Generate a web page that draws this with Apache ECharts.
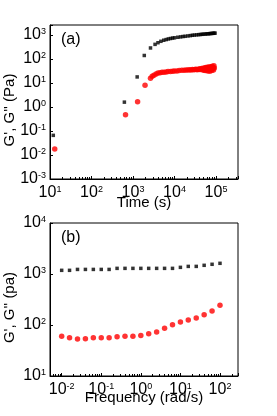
<!DOCTYPE html>
<html><head><meta charset="utf-8">
<script src="https://cdn.jsdelivr.net/npm/echarts@6/dist/echarts.min.js"></script>
<style>html,body{margin:0;padding:0;background:#fff}#c{width:277px;height:416px}</style>
</head><body><div id="c"></div>
<script>
// ---- Panel (a): time sweep ----
const timeStorage = [12, 620, 1260, 1870, 2640, 3400, 4000, 4700, 5500, 6300, 7100, 8000, 9000, 10000, 12000, 14000, 16000, 18000, 21000, 24000, 27000, 30000, 34000, 38000, 42000, 46000, 50000, 55000, 60000, 65000, 70000, 75000, 80000, 85000, 90000, 95000];
const storageTime = [0.066, 1.6, 18, 141, 290, 410, 480, 550, 610, 650, 690, 720, 750, 770, 810, 840, 870, 890, 920, 950, 980, 1000, 1020, 1040, 1060, 1075, 1090, 1105, 1120, 1135, 1150, 1160, 1175, 1185, 1195, 1205];
const timeLoss = [13, 660, 1290, 1950, 2640, 2900, 3200, 3600, 4000, 4500, 5000, 5600, 6300, 7000, 8000, 9000, 10000, 11500, 13000, 15000, 17000, 19000, 21000, 23000, 25000, 27000, 29000, 31000, 33000, 35000, 37000, 39000, 41000, 43000, 45000, 47000, 49000, 51000, 53000, 55000, 57000, 59000, 61000, 63000, 65000, 67000, 69000, 71000, 73000, 75000, 77000, 79000, 81000, 83000, 85000, 87000, 89000, 91000];
const lossTime = [0.018, 0.48, 1.66, 8, 16, 19, 21, 24, 26, 27, 28, 28.5, 29, 30, 30, 31, 32, 32, 33, 34, 34, 35, 35, 36, 35, 37, 36, 37, 38, 36, 38, 37, 39, 37, 40, 36, 41, 34, 42, 33, 44, 35, 45, 32, 47, 36, 43, 31, 48, 38, 46, 33, 50, 40, 44, 35, 52, 42];

// ---- Panel (b): frequency sweep ----
const frequency = [0.01, 0.0158, 0.0251, 0.0398, 0.0631, 0.1, 0.158, 0.251, 0.398, 0.631, 1, 1.58, 2.51, 3.98, 6.31, 10, 15.8, 25.1, 39.8, 63.1, 100];
const storageFreq = [1180, 1180, 1230, 1230, 1230, 1230, 1230, 1290, 1290, 1290, 1290, 1290, 1290, 1290, 1290, 1350, 1410, 1410, 1480, 1550, 1620];
const lossFreq = [60, 56, 53, 54, 56, 56, 56, 59, 60, 60, 62, 67, 73, 86, 101, 114, 125, 137, 159, 188, 245];

const panelLabels = ['(a)', '(b)'];
const xTitles = ['Time (s)', 'Frequency (rad/s)'];
const yTitles = ["G', G'' (Pa)", "G', G'' (pa)"];

const FONT = '"Liberation Sans", Arial, sans-serif';
function pow10Label(v) {
  const e = Math.log10(v);
  const r = Math.round(e);
  if (Math.abs(e - r) > 1e-6) return '';
  return '{b|10}{s|' + r + '}';
}
const rich = {
  b: {fontSize: 16, fontFamily: FONT, color: '#000', lineHeight: 16},
  s: {fontSize: 9, fontFamily: FONT, color: '#000', lineHeight: 9, verticalAlign: 'top'}
};
function axisBase(extra) {
  return Object.assign({
    type: 'log', logBase: 10,
    axisLine: {lineStyle: {color: '#000', width: 1}},
    axisTick: {inside: true, length: 3, lineStyle: {color: '#000'}},
    splitLine: {show: false},
    axisLabel: {formatter: pow10Label, rich: rich, fontSize: 16, fontFamily: FONT, color: '#000', margin: 4},
    nameLocation: 'middle',
    nameMoveOverlap: false,
    nameTextStyle: {fontSize: 15, fontFamily: FONT, color: '#000'}
  }, extra);
}
const xLabel = {formatter: pow10Label, rich: rich, fontSize: 16, fontFamily: FONT, color: '#000', margin: 6};
const xMinor = {show: true, splitNumber: 9, length: 2, lineStyle: {color: '#000', width: 1}};
const yNameStyle = {fontSize: 15, fontFamily: FONT, color: '#000', padding: [0, 16, 0, 0]};
const pair = (xs, ys) => xs.map((x, i) => [x, ys[i]]);

const chart = echarts.init(document.getElementById('c'), null, {renderer: 'canvas'});
chart.setOption({
  animation: false,
  backgroundColor: '#fff',
  grid: [
    {left: 50, top: 25, width: 188, height: 154, show: true, borderColor: '#000', borderWidth: 1, containLabel: false, outerBoundsMode: 'none'},
    {left: 50, top: 223, width: 188, height: 153, show: true, borderColor: '#000', borderWidth: 1, containLabel: false, outerBoundsMode: 'none'}
  ],
  xAxis: [
    axisBase({gridIndex: 0, min: 10, max: Math.pow(10, 5.53), name: xTitles[0], nameGap: 16, axisLabel: xLabel, minorTick: xMinor}),
    axisBase({gridIndex: 1, min: Math.pow(10, -2.295), max: Math.pow(10, 2.455), name: xTitles[1], nameGap: 14, axisLabel: xLabel, minorTick: xMinor})
  ],
  yAxis: [
    axisBase({gridIndex: 0, min: 0.001, max: Math.pow(10, 3.42), name: yTitles[0], nameGap: 33, nameTextStyle: yNameStyle}),
    axisBase({gridIndex: 1, min: 10, max: 10000, name: yTitles[1], nameGap: 33, nameTextStyle: yNameStyle})
  ],
  graphic: [
    {type: 'text', left: 61, top: 32, style: {text: panelLabels[0], font: '16px ' + FONT, fill: '#000'}},
    {type: 'text', left: 61, top: 230, style: {text: panelLabels[1], font: '16px ' + FONT, fill: '#000'}}
  ],
  series: [
    {type: 'scatter', xAxisIndex: 0, yAxisIndex: 0, symbol: 'rect', symbolSize: 3.5, itemStyle: {color: '#000'}, data: pair(timeStorage, storageTime)},
    {type: 'scatter', xAxisIndex: 0, yAxisIndex: 0, symbol: 'circle', symbolSize: 5.5, itemStyle: {color: '#ff0000'}, data: pair(timeLoss, lossTime)},
    {type: 'scatter', xAxisIndex: 1, yAxisIndex: 1, symbol: 'rect', symbolSize: 3.5, itemStyle: {color: '#000'}, data: pair(frequency, storageFreq)},
    {type: 'scatter', xAxisIndex: 1, yAxisIndex: 1, symbol: 'circle', symbolSize: 5.5, itemStyle: {color: '#ff0000'}, data: pair(frequency, lossFreq)}
  ]
});
</script>
</body></html>
